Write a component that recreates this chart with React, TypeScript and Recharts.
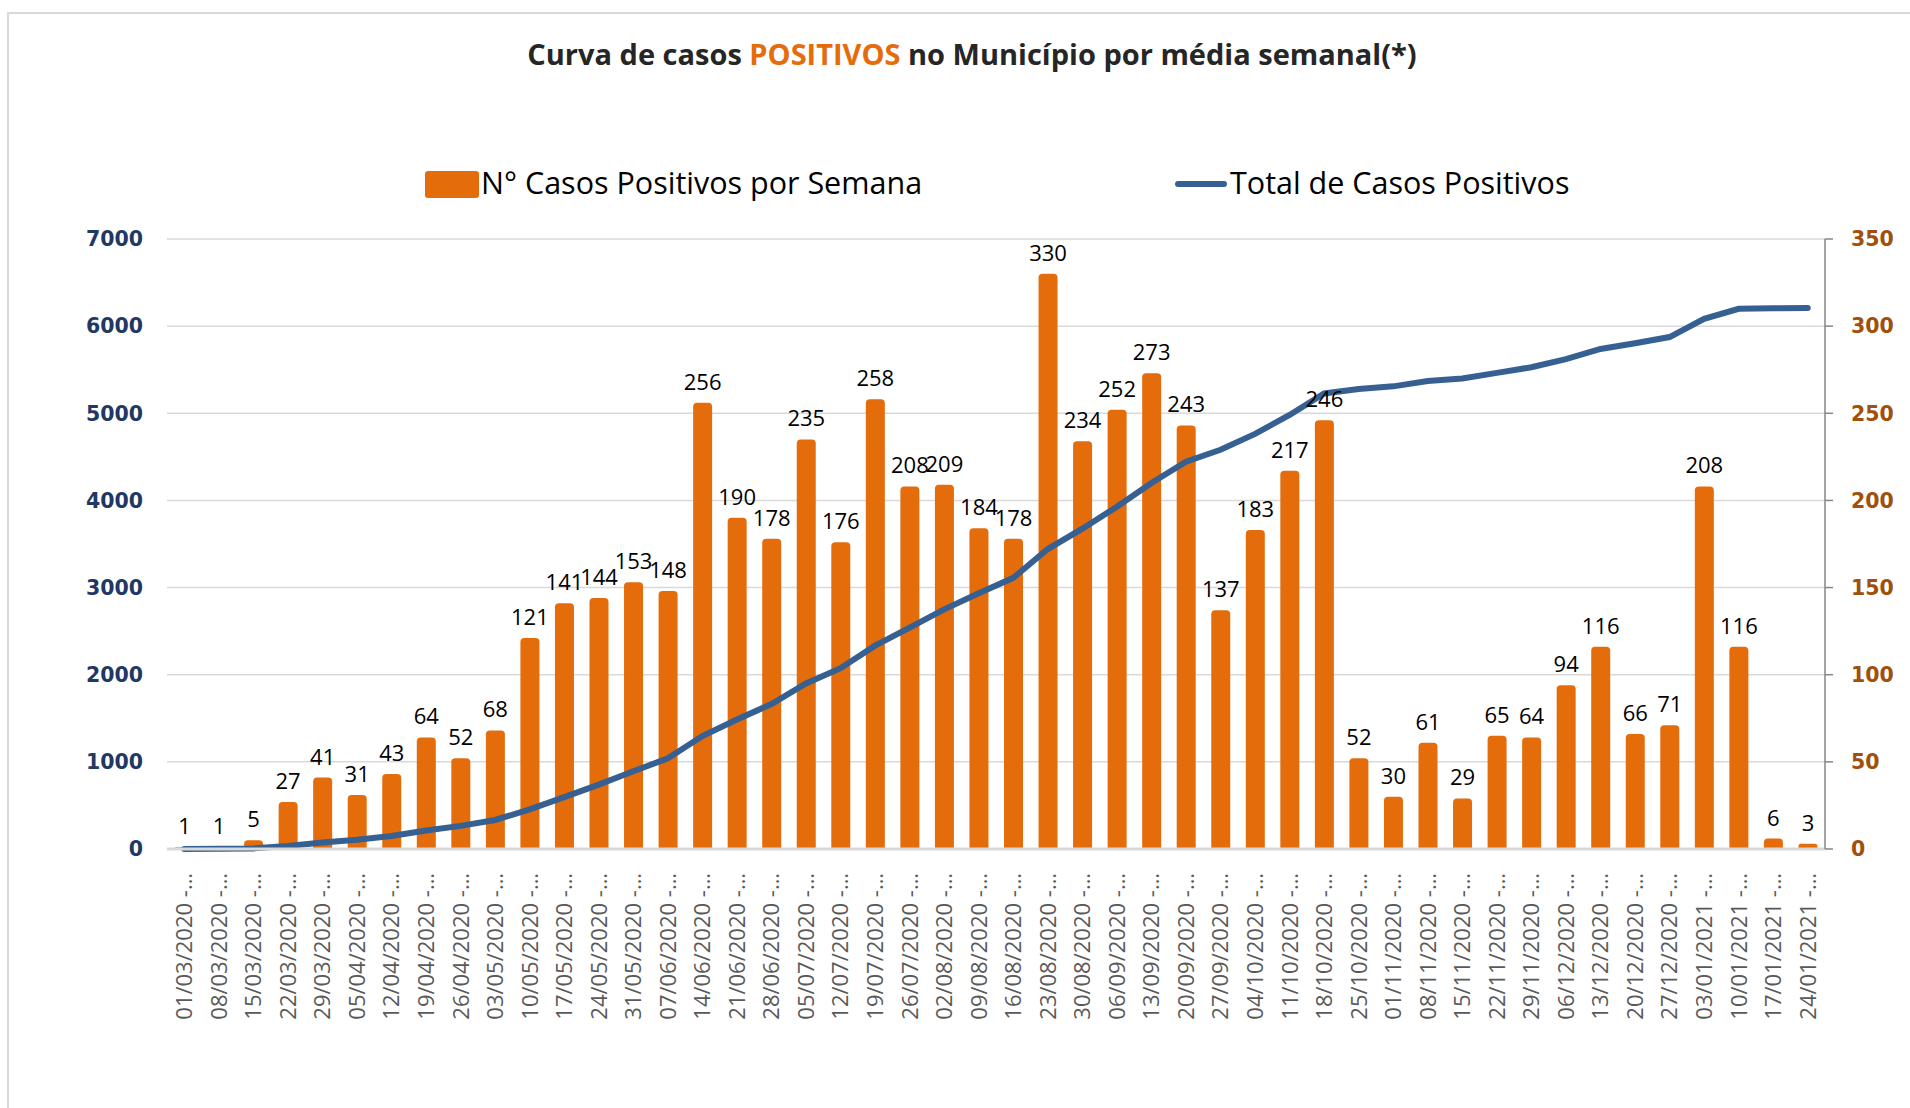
import {
  ComposedChart,
  Bar,
  Line,
  XAxis,
  YAxis,
  CartesianGrid,
  LabelList,
} from 'recharts'

const semanas = [
  '01/03/2020', '08/03/2020', '15/03/2020', '22/03/2020', '29/03/2020', '05/04/2020',
  '12/04/2020', '19/04/2020', '26/04/2020', '03/05/2020', '10/05/2020', '17/05/2020',
  '24/05/2020', '31/05/2020', '07/06/2020', '14/06/2020', '21/06/2020', '28/06/2020',
  '05/07/2020', '12/07/2020', '19/07/2020', '26/07/2020', '02/08/2020', '09/08/2020',
  '16/08/2020', '23/08/2020', '30/08/2020', '06/09/2020', '13/09/2020', '20/09/2020',
  '27/09/2020', '04/10/2020', '11/10/2020', '18/10/2020', '25/10/2020', '01/11/2020',
  '08/11/2020', '15/11/2020', '22/11/2020', '29/11/2020', '06/12/2020', '13/12/2020',
  '20/12/2020', '27/12/2020', '03/01/2021', '10/01/2021', '17/01/2021', '24/01/2021',
]

const casosSemana = [
  1, 1, 5, 27, 41, 31, 43, 64, 52, 68, 121, 141,
  144, 153, 148, 256, 190, 178, 235, 176, 258, 208, 209, 184,
  178, 330, 234, 252, 273, 243, 137, 183, 217, 246, 52, 30,
  61, 29, 65, 64, 94, 116, 66, 71, 208, 116, 6, 3,
]

const totalCasos = [
  1, 2, 7, 34, 75, 106, 149, 213, 265, 333, 454, 595,
  739, 892, 1040, 1296, 1486, 1664, 1899, 2075, 2333, 2541, 2750, 2934,
  3112, 3442, 3676, 3928, 4201, 4444, 4581, 4764, 4981, 5227, 5279, 5309,
  5370, 5399, 5464, 5528, 5622, 5738, 5804, 5875, 6083, 6199, 6205, 6208,
]

const ticksTotal = [0, 1000, 2000, 3000, 4000, 5000, 6000, 7000]
const ticksSemana = [0, 50, 100, 150, 200, 250, 300, 350]

const LARANJA = '#E46C0A'
const AZUL = '#376092'
const FONTE = '"Open Sans", "Noto Sans", sans-serif'

const data = semanas.map((semana, i) => ({
  semana,
  casos: casosSemana[i],
  total: totalCasos[i],
}))

function DateTick(props: any) {
  const { x, y, payload } = props
  return (
    <text
      x={x}
      y={y}
      transform={`rotate(-90, ${x}, ${y})`}
      textAnchor="end"
      dy="0.36em"
      fill="#595959"
      fontSize={22}
      fontFamily={FONTE}
    >
      {payload.value} -…
    </text>
  )
}

export default function App() {
  return (
    <div
      style={{
        position: 'absolute',
        left: 0,
        top: 0,
        width: 1910,
        height: 1108,
        background: '#fff',
        overflow: 'hidden',
      }}
    >
      <div
        style={{
          position: 'absolute',
          left: 7,
          top: 12,
          right: 0,
          bottom: 0,
          borderLeft: '2px solid #d9d9d9',
          borderTop: '2px solid #d9d9d9',
        }}
      />
      <div
        style={{
          position: 'absolute',
          left: 0,
          width: 1944,
          top: 34,
          textAlign: 'center',
          fontFamily: FONTE,
          fontWeight: 700,
          fontSize: 29,
          color: '#262626',
          whiteSpace: 'nowrap',
        }}
      >
        Curva de casos <span style={{ color: LARANJA }}>POSITIVOS</span> no Município por média semanal(*)
      </div>

      {/* legenda */}
      <div
        style={{
          position: 'absolute',
          left: 425,
          top: 171,
          width: 54,
          height: 27,
          background: LARANJA,
          borderRadius: 3,
        }}
      />
      <div
        style={{
          position: 'absolute',
          left: 481,
          top: 161,
          fontFamily: FONTE,
          fontSize: 30.5,
          color: '#000',
          whiteSpace: 'nowrap',
        }}
      >
        N° Casos Positivos por Semana
      </div>
      <div
        style={{
          position: 'absolute',
          left: 1175,
          top: 181,
          width: 52,
          height: 6,
          background: AZUL,
          borderRadius: 3,
        }}
      />
      <div
        style={{
          position: 'absolute',
          left: 1230,
          top: 161,
          fontFamily: FONTE,
          fontSize: 30.5,
          color: '#000',
          whiteSpace: 'nowrap',
        }}
      >
        Total de Casos Positivos
      </div>

      <div style={{ position: 'absolute', left: 0, top: 0 }}>
        <ComposedChart
          width={1910}
          height={1108}
          data={data}
          margin={{ top: 239, right: 0, bottom: 0, left: 0 }}
        >
          <CartesianGrid vertical={false} stroke="#d9d9d9" strokeWidth={1.5} yAxisId="total" />
          <XAxis
            dataKey="semana"
            interval={0}
            height={259}
            tickLine={false}
            axisLine={{ stroke: '#d9d9d9', strokeWidth: 3 }}
            tick={<DateTick />}
            tickMargin={18}
          />
          <YAxis
            yAxisId="total"
            orientation="left"
            width={167}
            domain={[0, 7000]}
            ticks={ticksTotal}
            axisLine={false}
            tickLine={false}
            tickSize={0}
            tickMargin={24}
            tick={{ fill: '#1F3864', fontSize: 20.5, fontWeight: 700, fontFamily: '"DejaVu Sans", sans-serif' }}
          />
          <YAxis
            yAxisId="semana"
            orientation="right"
            width={85}
            domain={[0, 350]}
            ticks={ticksSemana}
            axisLine={{ stroke: '#868686', strokeWidth: 1.5 }}
            tickLine={{ stroke: '#868686', strokeWidth: 1.5 }}
            tickSize={8}
            tickMargin={18}
            tick={{ fill: '#A0500A', fontSize: 20.5, fontWeight: 700, fontFamily: '"DejaVu Sans", sans-serif' }}
          />
          <Bar
            yAxisId="semana"
            dataKey="casos"
            fill={LARANJA}
            barSize={19}
            radius={[4, 4, 0, 0]}
            isAnimationActive={false}
          >
            <LabelList
              dataKey="casos"
              position="top"
              offset={13}
              fill="#000"
              fontSize={22}
              fontFamily={FONTE}
            />
          </Bar>
          <Line
            yAxisId="total"
            dataKey="total"
            type="linear"
            stroke={AZUL}
            strokeWidth={6}
            strokeLinecap="round"
            dot={false}
            isAnimationActive={false}
          />
        </ComposedChart>
      </div>
    </div>
  )
}
